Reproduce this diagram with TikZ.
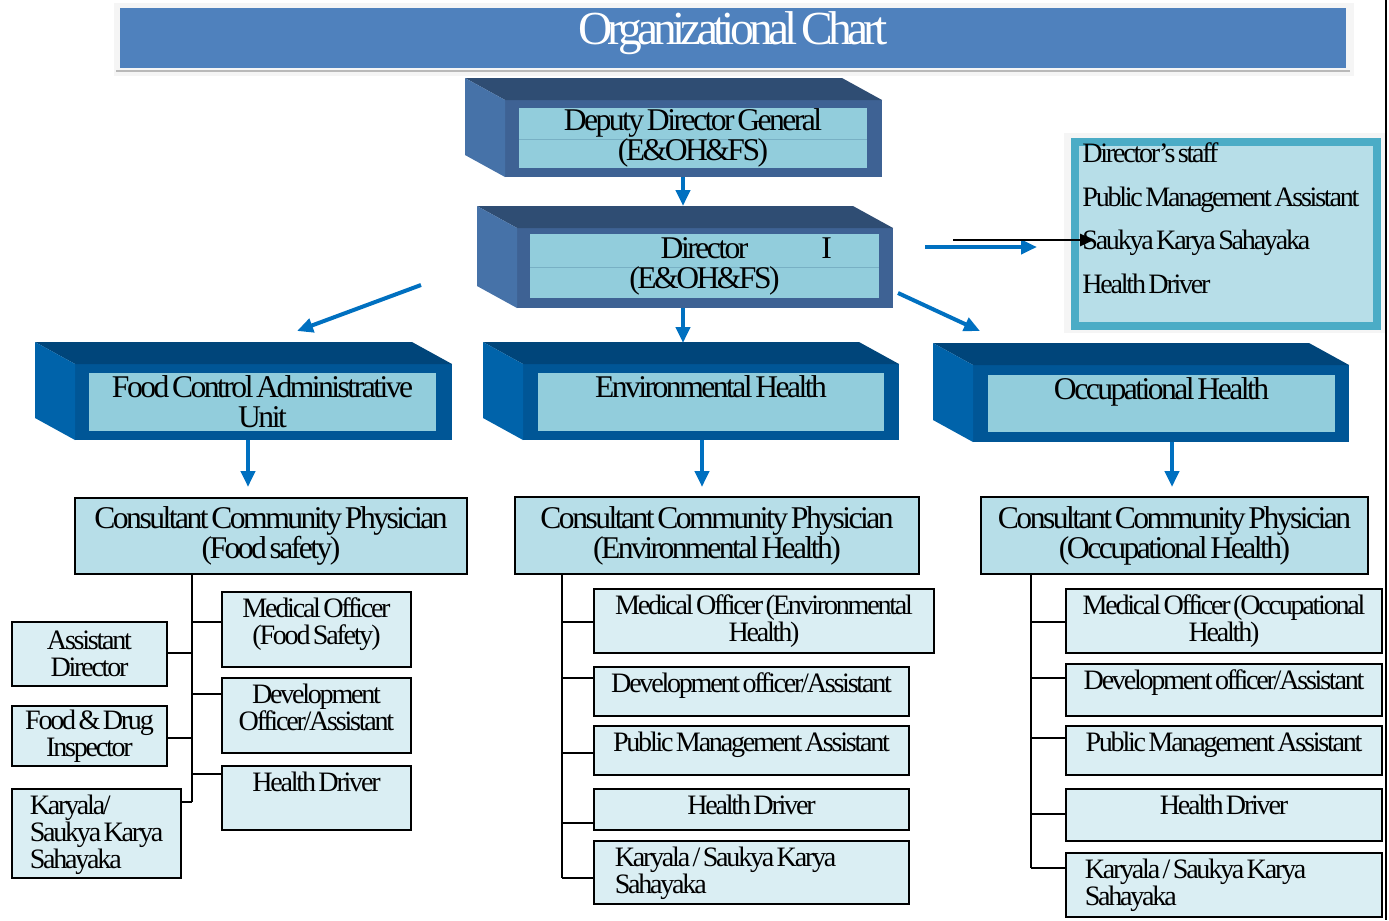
\documentclass[tikz,border=0pt]{standalone}
\usepackage{fontspec}
\setmainfont{Liberation Serif}
\newfontfamily\chartfont[LetterSpace=-8,WordSpace=0.5]{Liberation Serif}
\newfontfamily\titlefont[LetterSpace=-10,WordSpace=0.5]{Liberation Serif}
\usetikzlibrary{arrows.meta,positioning,fit,calc}
\definecolor{banner}{RGB}{79,129,189}
\definecolor{arrowblue}{RGB}{0,112,192}
\definecolor{topdark}{RGB}{47,77,115}
\definecolor{sidemid}{RGB}{70,114,168}
\definecolor{framemid}{RGB}{62,98,148}
\definecolor{navytop}{RGB}{0,69,122}
\definecolor{navyside}{RGB}{0,99,170}
\definecolor{navyframe}{RGB}{0,86,150}
\definecolor{innerfill}{RGB}{146,205,220}
\definecolor{midline}{RGB}{120,176,196}
\definecolor{ccpfill}{RGB}{183,222,232}
\definecolor{postfill}{RGB}{218,238,243}
\definecolor{staffedge}{RGB}{75,172,198}
\tikzset{
  face/.style={inner sep=0pt, outer sep=0pt, fill=#1},
  ccp/.style={draw=black, line width=0.85pt, fill=ccpfill, inner sep=0pt},
  post/.style={draw=black, line width=0.85pt, fill=postfill, inner sep=0pt},
  staffbox/.style={draw=staffedge, line width=0.16cm, fill=ccpfill, inner sep=0pt},
  txt/.style={align=center, inner sep=0pt, text=black},
  bigtxt/.style={txt, font=\chartfont\fontsize{18}{17}\selectfont},
  smalltxt/.style={txt, inner sep=3.5pt, font=\chartfont\fontsize{16}{15.3}\selectfont},
  link/.style={draw=black, line width=0.85pt},
  flow/.style={draw=arrowblue, line width=0.08cm, -{Triangle[length=0.32cm, width=0.28cm]}},
  blackflow/.style={draw=black, line width=0.055cm, -{Triangle[length=0.28cm, width=0.24cm]}}
}
% top and left faces of a 3d box
\newcommand\sides[3]{%
  \fill[#2] (#1.north west) -- ++(-40,-22) -- ($(#1.north east)+(-40,-22)$) -- (#1.north east) -- cycle;
  \fill[#3] (#1.north west) -- ++(-40,-22) -- ($(#1.south west)+(-40,-22)$) -- (#1.south west) -- cycle;}
\begin{document}
\begin{tikzpicture}[x=0.02cm, y=-0.02cm, font=\chartfont]
  \useasboundingbox (0,0) rectangle (1389,920);
  % title banner
  \fill[gray!8] (114,3) rectangle (1354,76);
  \node[face=banner, fit={(120,8)(1346,68)}] (banner) {};
  \draw[gray!55, line width=0.03cm] (banner.south west) ++(-4,3) -- ++(1234,0);
  \node[txt, text=white, anchor=base, yshift=-0.12cm, font=\titlefont\fontsize{27}{27}\selectfont] (title) at (banner.center) {Organizational Chart};
  \draw[black, line width=0.04cm] (1386,0) -- (1386,920);

  % deputy director general
  \node[face=framemid, fit={(505,100)(882,177)}] (ddg) {};
  \sides{ddg}{topdark}{sidemid}
  \node[face=innerfill, fit={(519,108)(867,168)}] (ddgin) {};
  \draw[midline] (ddgin.west |- 0,139) -- (ddgin.east |- 0,139);
  \node[bigtxt] (ddgtxt) at (ddgin.center) {Deputy Director General\\(E\&OH\&FS)};

  % director
  \node[face=framemid, fit={(517,228)(893,308)}] (dir) {};
  \sides{dir}{topdark}{sidemid}
  \node[face=innerfill, fit={(530,234)(879,298)}] (dirin) {};
  \draw[midline] (dirin.west |- 0,267) -- (dirin.east |- 0,267);
  \node[bigtxt] (dirtxt) at (dirin.center) {Director\rlap{\hspace{1.46cm}I}\\(E\&OH\&FS)};

  % director's staff
  \fill[gray!8] (1064,133) rectangle (1385,333);
  \node[staffbox, fit={(1075,142)(1377,326)}] (staff) {};
  \node[txt, align=left, anchor=north west, font=\chartfont\fontsize{16}{25}\selectfont] (stafftxt)
    at ($(staff.north west)+(11,4)$) {Director’s staff\\Public Management Assistant\\Saukya Karya Sahayaka\\Health Driver};

  % units
  \node[face=navyframe, fit={(75,364)(452,440)}] (fca) {};
  \sides{fca}{navytop}{navyside}
  \node[face=innerfill, fit={(89,373)(436,431)}] (fcain) {};
  \node[bigtxt, anchor=north, yshift=-0.04cm] (fcatxt) at (fcain.north) {Food Control Administrative\\Unit};

  \node[face=navyframe, fit={(523,364)(899,440)}] (env) {};
  \sides{env}{navytop}{navyside}
  \node[face=innerfill, fit={(538,373)(884,431)}] (envin) {};
  \node[bigtxt, anchor=north, yshift=-0.04cm] (envtxt) at (envin.north) {Environmental Health};

  \node[face=navyframe, fit={(973,365)(1349,442)}] (occ) {};
  \sides{occ}{navytop}{navyside}
  \node[face=innerfill, fit={(988,375)(1335,432)}] (occin) {};
  \node[bigtxt, anchor=north, yshift=-0.04cm] (occtxt) at (occin.north) {Occupational Health};

  % food safety
  \node[ccp, fit={(75,498)(467,574)}] (ccpf) {};
  \node[bigtxt] at (ccpf.center) {Consultant Community Physician\\(Food safety)};
  \node[post, fit={(222,592)(411,667)}] (mof) {};
  \node[smalltxt, anchor=north] at (mof.north) {Medical Officer\\(Food Safety)};
  \node[post, fit={(222,678)(411,753)}] (dof) {};
  \node[smalltxt, anchor=north] at (dof.north) {Development\\Officer/Assistant};
  \node[post, fit={(222,766)(411,830)}] (hdf) {};
  \node[smalltxt, anchor=north] at (hdf.north) {Health Driver};
  \node[post, fit={(12,622)(167,686)}] (adf) {};
  \node[smalltxt] at (adf.center) {Assistant\\Director};
  \node[post, fit={(12,706)(167,766)}] (fdi) {};
  \node[smalltxt] at (fdi.center) {Food \& Drug\\Inspector};
  \node[post, fit={(12,789)(181,878)}] (kyf) {};
  \node[smalltxt, align=left, anchor=north west] at ($(kyf.north west)+(12,0)$) {Karyala/\\Saukya Karya\\Sahayaka};
  \coordinate (ftrunk) at (192,0);
  \draw[link] (ccpf.south -| ftrunk) -- (ftrunk |- 0,802);
  \foreach \n/\y in {mof/622,dof/694,hdf/774}
    \draw[link] (ftrunk |- 0,\y) -- (\n.west |- 0,\y);
  \foreach \n/\y in {adf/653,fdi/738,kyf/802}
    \draw[link] (ftrunk |- 0,\y) -- (\n.east |- 0,\y);

  % environmental health
  \node[ccp, fit={(515,497)(919,574)}] (ccpe) {};
  \node[bigtxt] at (ccpe.center) {Consultant Community Physician\\(Environmental Health)};
  \node[post, fit={(594,589)(934,653)}] (moe) {};
  \node[smalltxt, anchor=north] at (moe.north) {Medical Officer (Environmental\\Health)};
  \node[post, fit={(594,667)(909,716)}] (doe) {};
  \node[smalltxt, anchor=north] at (doe.north) {Development officer/Assistant};
  \node[post, fit={(594,726)(909,775)}] (pme) {};
  \node[smalltxt, anchor=north] at (pme.north) {Public Management Assistant};
  \node[post, fit={(594,789)(909,830)}] (hde) {};
  \node[smalltxt, anchor=north] at (hde.north) {Health Driver};
  \node[post, fit={(594,841)(909,904)}] (kye) {};
  \node[smalltxt, align=left, anchor=north west] at ($(kye.north west)+(15,0)$) {Karyala / Saukya Karya\\Sahayaka};
  \coordinate (etrunk) at (562,0);
  \draw[link] (ccpe.south -| etrunk) -- (etrunk |- 0,878);
  \foreach \n/\y in {moe/622,doe/678,pme/753,hde/823,kye/878}
    \draw[link] (etrunk |- 0,\y) -- (\n.west |- 0,\y);

  % occupational health
  \node[ccp, fit={(981,497)(1368,574)}] (ccpo) {};
  \node[bigtxt] at (ccpo.center) {Consultant Community Physician\\(Occupational Health)};
  \node[post, fit={(1066,589)(1382,653)}] (moo) {};
  \node[smalltxt, anchor=north] at (moo.north) {Medical Officer (Occupational\\Health)};
  \node[post, fit={(1066,664)(1382,716)}] (doo) {};
  \node[smalltxt, anchor=north] at (doo.north) {Development officer/Assistant};
  \node[post, fit={(1066,726)(1382,775)}] (pmo) {};
  \node[smalltxt, anchor=north] at (pmo.north) {Public Management Assistant};
  \node[post, fit={(1066,789)(1382,841)}] (hdo) {};
  \node[smalltxt, anchor=north] at (hdo.north) {Health Driver};
  \node[post, fit={(1066,853)(1382,917)}] (kyo) {};
  \node[smalltxt, align=left, anchor=north west] at ($(kyo.north west)+(13,0)$) {Karyala / Saukya Karya\\Sahayaka};
  \coordinate (otrunk) at (1031,0);
  \draw[link] (ccpo.south -| otrunk) -- (otrunk |- 0,868);
  \foreach \n/\y in {moo/622,doo/678,pmo/738,hdo/814,kyo/868}
    \draw[link] (otrunk |- 0,\y) -- (\n.west |- 0,\y);

  % arrows
  \coordinate (dirtip) at (683,206);
  \coordinate (envtop) at (683,343);
  \coordinate (fcatip) at (248,487);
  \coordinate (envtip) at (702,487);
  \coordinate (occtip) at (1172,487);
  \coordinate (lfrom) at (421,285);
  \coordinate (lto) at (297,331);
  \coordinate (rfrom) at (898,293);
  \coordinate (rto) at (980,331);
  \coordinate (hfrom) at (925,247);
  \coordinate (hto) at (1037,247);
  \coordinate (kfrom) at (953,240);
  \coordinate (kto) at (1094,240);
  \draw[flow] (ddg.south -| dirtip) -- (dirtip);
  \draw[flow] (dir.south -| envtop) -- (envtop);
  \draw[flow] (fca.south -| fcatip) -- (fcatip);
  \draw[flow] (env.south -| envtip) -- (envtip);
  \draw[flow] (occ.south -| occtip) -- (occtip);
  \draw[flow] (lfrom) -- (lto);
  \draw[flow] (rfrom) -- (rto);
  \draw[flow] (hfrom) -- (hto);
  \draw[blackflow] (kfrom) -- (kto);
\end{tikzpicture}
\end{document}
